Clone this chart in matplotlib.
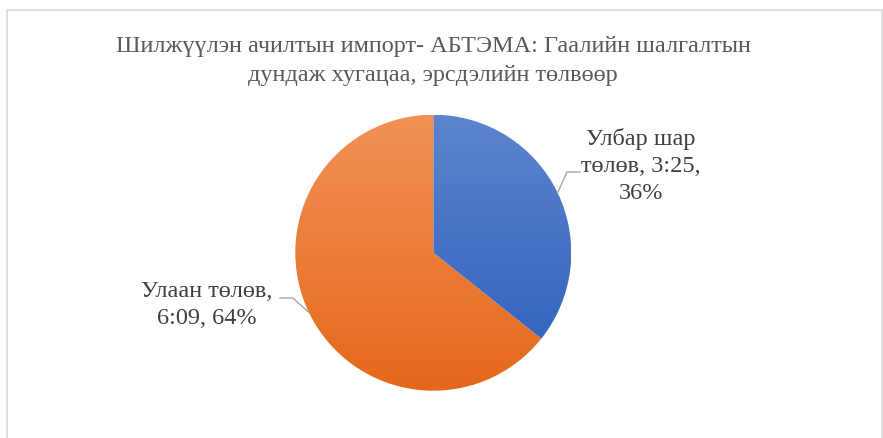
import numpy as np
import matplotlib
matplotlib.use("Agg")
import matplotlib.pyplot as plt
from matplotlib.colors import LinearSegmentedColormap
from matplotlib.patches import Rectangle

plt.rcParams['font.family'] = ['Liberation Serif', 'DejaVu Serif']

title = "Шилжүүлэн ачилтын импорт- АБТЭМА: Гаалийн шалгалтын\nдундаж хугацаа, эрсдэлийн төлвөөр"
names = ["Улбар шар\nтөлөв", "Улаан төлөв"]
times = ["3:25", "6:09"]
seconds = [205, 369]
top_colors = ["#5D84CD", "#F29156"]
bottom_colors = ["#2D5FBD", "#E4681A"]

W, H = 883, 439
fig = plt.figure(figsize=(W / 100, H / 100), dpi=100)

# chart frame
fig.patches.append(Rectangle((6.5 / W, -0.05), (882 - 6.5) / W, 1.05 - 10.5 / H,
                             transform=fig.transFigure, fill=False,
                             edgecolor="#D9D9D9", lw=1.2))

fig.text(433 / W, 1 - 61 / H, title, ha="center", va="center",
         fontsize=17.5, color="#595959", linespacing=1.45)

cx, cy, r = 433.3, 253.7, 138
ax = fig.add_axes([(cx - r) / W, (H - cy - r) / H, 2 * r / W, 2 * r / H])
ax.set_xlim(-1, 1)
ax.set_ylim(-1, 1)
ax.axis("off")

wedges, _ = ax.pie(seconds, startangle=90, counterclock=False, radius=1,
                   colors=["none", "none"], wedgeprops=dict(linewidth=0))

grad = np.linspace(1, 0, 256).reshape(-1, 1)
for w, c1, c2 in zip(wedges, top_colors, bottom_colors):
    cmap = LinearSegmentedColormap.from_list("g", [c2, c1])
    im = ax.imshow(grad, cmap=cmap, extent=[-1, 1, -1, 1], aspect="auto",
                   origin="upper", zorder=1)
    im.set_clip_path(w)
ax.set_xlim(-1, 1)
ax.set_ylim(-1, 1)

total = sum(seconds)
pct = [round(100 * s / total) for s in seconds]


def px(x, y):
    return (x - cx) / r, (cy - y) / r


line_kw = dict(color="#A6A6A6", lw=1, clip_on=False, zorder=3)

# blue label
w = wedges[0]
mid = np.deg2rad((w.theta1 + w.theta2) / 2)
p0 = (np.cos(mid), np.sin(mid))
p1 = px(567, 173)
p2 = px(580, 173)
ax.plot([p0[0], p1[0], p2[0]], [p0[1], p1[1], p2[1]], **line_kw)
tx, ty = px(641, 166)
ax.text(tx, ty, f"{names[0]}, {times[0]},\n{pct[0]}%", ha="center", va="center",
        fontsize=17.5, color="#404040", linespacing=1.4)

# orange label
w = wedges[1]
mid = np.deg2rad((w.theta1 + w.theta2) / 2)
p0 = (np.cos(mid), np.sin(mid))
p1 = px(293, 299)
p2 = px(280, 299)
ax.plot([p0[0], p1[0], p2[0]], [p0[1], p1[1], p2[1]], **line_kw)
tx, ty = px(207, 305)
ax.text(tx, ty, f"{names[1]},\n{times[1]}, {pct[1]}%", ha="center", va="center",
        fontsize=17.5, color="#404040", linespacing=1.4)

fig.savefig("out.png", dpi=100)
